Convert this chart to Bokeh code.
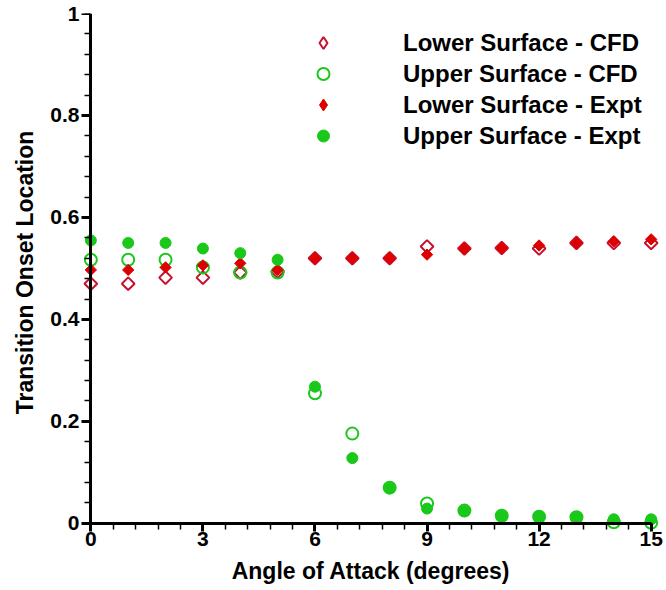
import math
from bokeh.plotting import figure
from bokeh.models import (FixedTicker, Legend, LegendItem, Range1d, LinearAxis,
                          ColumnDataSource)
from bokeh.embed import file_html
from bokeh.resources import INLINE

# ---- data ----
alpha = [0, 1, 2, 3, 4, 5, 6, 7, 8, 9, 10, 11, 12, 13, 14, 15]
lower_cfd = [0.470, 0.470, 0.482, 0.482, 0.492, 0.494, 0.520, 0.520, 0.520,
             0.543, 0.539, 0.540, 0.539, 0.550, 0.550, 0.550]
upper_cfd = [0.517, 0.517, 0.517, 0.502, 0.492, 0.492, 0.255, 0.176, 0.070,
             0.039, 0.025, 0.015, 0.013, 0.012, 0.002, 0.001]
lower_expt = [0.497, 0.497, 0.502, 0.506, 0.510, 0.497, 0.520, 0.520, 0.520,
              0.527, 0.539, 0.540, 0.545, 0.550, 0.553, 0.557]
upper_expt = [0.555, 0.550, 0.550, 0.539, 0.530, 0.517, 0.268, 0.128, 0.069,
              0.029, 0.024, 0.014, 0.014, 0.012, 0.008, 0.008]

x_ticks = [0, 3, 6, 9, 12, 15]
x_tick_labels = ["0", "3", "6", "9", "12", "15"]
y_ticks = [0, 0.2, 0.4, 0.6, 0.8, 1]
y_tick_labels = ["0", "0.2", "0.4", "0.6", "0.8", "1"]

series_labels = ["Lower Surface - CFD", "Upper Surface - CFD",
                 "Lower Surface - Expt", "Upper Surface - Expt"]
x_title = "Angle of Attack (degrees)"
y_title = "Transition Onset Location"

RED_LINE = "#c8102e"
RED_FILL = "#dd0000"
GREEN = "#19c819"
FONT = "Liberation Sans"

src = ColumnDataSource(dict(a=alpha, lc=lower_cfd, uc=upper_cfd, le=lower_expt,
                            ue=upper_expt, ang=[math.pi / 4] * len(alpha)))

p = figure(width=666, height=590, output_backend="svg", toolbar_location=None,
           x_range=Range1d(-0.25, 15.25), y_range=Range1d(-0.016, 1.0),
           x_axis_location=None, y_axis_location=None,
           min_border_left=81, min_border_right=6, min_border_top=13,
           min_border_bottom=59)
p.outline_line_color = None
p.grid.visible = False
p.background_fill_color = "white"
p.border_fill_color = "white"

r_lc = p.scatter("a", "lc", source=src, marker="square", angle="ang", size=9,
                 fill_color=None, line_color=RED_LINE, line_width=2)
r_uc = p.scatter("a", "uc", source=src, marker="circle", size=12,
                 fill_color=None, line_color=GREEN, line_width=2)
r_le = p.scatter("a", "le", source=src, marker="square", angle="ang", size=8,
                 fill_color=RED_FILL, line_color=RED_FILL, line_width=1)
r_ue = p.scatter("a", "ue", source=src, marker="circle", size=11,
                 fill_color=GREEN, line_color=GREEN, line_width=1)

# legend-only glyphs (hidden renderers, diamond marker for the legend swatch)
g_lc = p.scatter("a", "lc", source=src, marker="diamond", visible=False,
                 fill_color=None, line_color=RED_LINE, line_width=2)
g_le = p.scatter("a", "le", source=src, marker="diamond", visible=False,
                 fill_color=RED_FILL, line_color=RED_FILL, line_width=1)

# axes carrying the tick labels and titles, at the frame edges
xlab = LinearAxis(ticker=FixedTicker(ticks=x_ticks),
                  major_label_overrides={t: l for t, l in zip(x_ticks, x_tick_labels)},
                  axis_label=x_title)
ylab = LinearAxis(ticker=FixedTicker(ticks=y_ticks),
                  major_label_overrides={t: l for t, l in zip(y_ticks, y_tick_labels)},
                  axis_label=y_title)
for ax in (xlab, ylab):
    ax.axis_line_color = None
    ax.major_tick_line_color = None
    ax.minor_tick_line_color = None
    ax.major_tick_out = 0
    ax.major_tick_in = 0
    ax.minor_tick_out = 0
    ax.minor_tick_in = 0
    ax.major_label_text_font = FONT
    ax.major_label_text_font_style = "bold"
    ax.major_label_text_font_size = "21px"
    ax.major_label_text_color = "black"
    ax.axis_label_text_font = FONT
    ax.axis_label_text_font_style = "bold"
    ax.axis_label_text_font_size = "23px"
    ax.axis_label_text_color = "black"
xlab.major_label_standoff = 0
xlab.axis_label_standoff = 9
ylab.major_label_standoff = 2
ylab.axis_label_standoff = 9
p.add_layout(xlab, "below")
p.add_layout(ylab, "left")

# spines fixed at the data origin; for a fixed-location axis the "out"
# direction points into the plot, giving the inward ticks of the original
xspine = LinearAxis(ticker=FixedTicker(ticks=x_ticks,
                                       minor_ticks=[i * 0.6 for i in range(26)]))
yspine = LinearAxis(ticker=FixedTicker(ticks=y_ticks,
                                       minor_ticks=[i * 0.04 for i in range(26)]))
for ax, b in ((xspine, (0, 15)), (yspine, (0, 1))):
    ax.bounds = b
    ax.fixed_location = 0
    ax.axis_line_width = 3
    ax.axis_line_color = "black"
    ax.major_tick_in = 0
    ax.major_tick_out = 12
    ax.minor_tick_in = 0
    ax.minor_tick_out = 6
    ax.major_tick_line_color = "black"
    ax.minor_tick_line_color = "black"
    ax.major_tick_line_width = 3
    ax.minor_tick_line_width = 1.5
    ax.major_label_standoff = 0
    ax.major_label_text_font_size = "0px"
    ax.major_label_text_alpha = 0
p.add_layout(xspine, "below")
p.add_layout(yspine, "left")

legend = Legend(items=[LegendItem(label=series_labels[0], renderers=[g_lc]),
                       LegendItem(label=series_labels[1], renderers=[r_uc]),
                       LegendItem(label=series_labels[2], renderers=[g_le]),
                       LegendItem(label=series_labels[3], renderers=[r_ue])],
                location=(227, 380))
legend.label_text_font = FONT
legend.label_text_font_style = "bold"
legend.label_text_font_size = "24px"
legend.label_text_color = "black"
legend.glyph_width = 30
legend.glyph_height = 31
legend.label_height = 31
legend.spacing = 0
legend.padding = 0
legend.margin = 0
legend.label_standoff = 65
legend.border_line_color = None
legend.background_fill_alpha = 0
p.add_layout(legend)

open("out.html", "w").write(file_html(p, INLINE))
